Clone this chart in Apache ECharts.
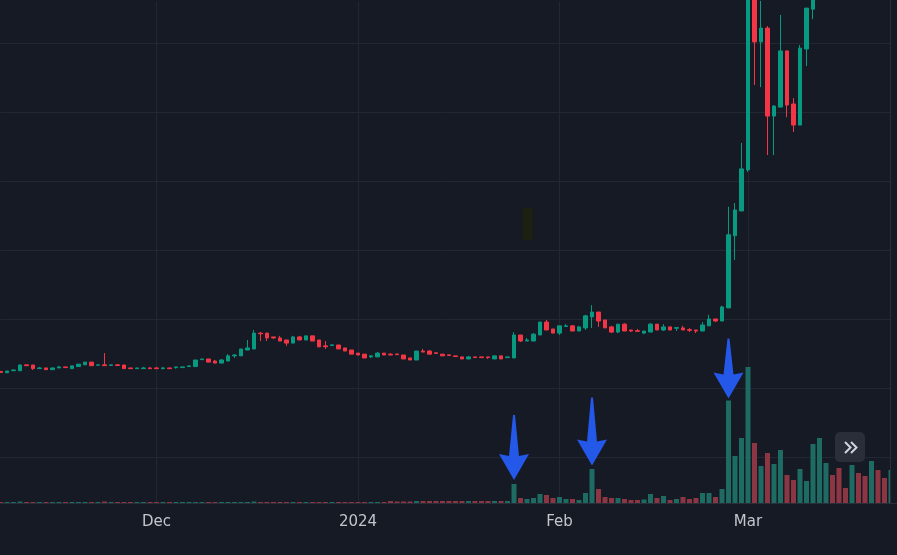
<!DOCTYPE html>
<html>
<head>
<meta charset="utf-8">
<script src="https://cdn.jsdelivr.net/npm/echarts/dist/echarts.min.js"></script>
<style>
html,body{margin:0;padding:0;background:#161a25;}
#c{width:897px;height:555px;}
</style>
</head>
<body>
<div id="c"></div>
<script>
// ---- data ----
const startDate = '2023-11-07';
const tickLabels = [['2023-12-01', 'Dec'], ['2024-01-01', '2024'], ['2024-02-01', 'Feb'], ['2024-03-01', 'Mar']];

const opens = [
  24.9,24.5,25.1,25.1,26.8,26.75,25.7,25.9,25.4,25.9,
  26.2,25.7,26.3,26.8,27.6,26.7,26.8,26.6,26.8,26.75,
  25.9,25.7,25.7,25.9,25.9,25.7,25.9,26.0,26.0,26.3,
  26.3,28.3,28.5,27.9,27.3,27.9,29.4,29.4,31.1,31.4,
  36.0,36.0,34.9,34.6,34.0,33.1,34.9,34.0,35.2,34.0,
  32.3,32.4,32.55,31.7,31.1,30.2,29.9,29.1,29.1,30.2,
  29.9,29.95,29.65,28.8,28.2,30.8,30.8,30.3,29.9,29.7,
  29.4,29.1,28.5,29.1,29.1,29.1,28.5,29.4,28.9,28.8,
  35.45,33.7,33.7,35.45,39.2,37.2,36.0,37.9,38.1,36.6,
  37.5,40.7,42.1,39.8,37.8,36.3,38.6,36.9,36.7,36.0,
  36.3,38.6,36.9,37.8,37.4,37.5,37.0,36.9,36.6,38.1,
  40.1,39.5,43.3,64.2,71.4,83.3,136.5,120.4,124.4,98.9,
  101.5,117.8,102.4,96.3,118.35,129.9,140,150,156,150,
  145,143,151,147,144,152,148,145
];
const closes = [
  24.6,25.0,25.3,26.75,26.55,25.7,25.9,25.4,25.9,26.2,
  26.0,26.5,27.0,27.6,26.55,26.8,26.55,26.8,26.6,25.7,
  25.7,25.9,25.9,25.7,25.7,25.9,25.7,26.2,26.2,26.5,
  28.2,28.5,27.6,27.3,28.2,29.4,29.65,31.4,31.7,36.0,
  35.8,34.6,34.6,33.7,33.1,34.9,34.0,35.2,33.7,32.0,
  32.05,32.6,31.4,30.8,29.9,29.65,28.8,29.4,30.2,29.65,
  29.65,29.75,28.5,28.2,30.8,30.5,29.9,30.1,29.4,29.5,
  29.2,28.5,29.1,28.9,28.9,28.9,29.4,28.5,29.1,35.45,
  33.7,34.0,35.7,39.2,36.9,36.0,38.1,38.1,36.6,37.8,
  41.0,42.1,39.5,37.5,36.3,38.6,36.6,36.6,36.5,36.6,
  38.6,36.9,37.8,36.9,37.6,36.9,36.8,36.6,38.35,40.1,
  39.5,43.6,64.5,71.7,83.6,137.0,120.4,124.4,98.9,101.8,
  117.8,102.1,96.3,118.6,130.2,140.0,150,156,150,145,
  143,151,147,144,152,148,145,149
];
const lows = [
  24.6,24.5,25.0,25.1,26.5,25.3,25.6,25.4,25.4,25.9,
  26.0,25.7,26.3,26.8,26.55,26.7,26.5,26.6,26.6,25.7,
  25.7,25.7,25.7,25.7,25.7,25.5,25.7,25.7,26.0,26.3,
  26.3,28.3,27.6,27.3,27.3,27.9,28.8,29.4,31.1,31.4,
  33.7,33.7,34.3,33.7,32.3,33.1,34.0,34.0,33.7,32.0,
  31.4,32.4,31.4,30.8,29.9,29.65,28.8,28.8,29.1,29.65,
  29.65,29.75,28.5,28.2,28.2,30.5,29.9,30.1,29.4,29.5,
  29.2,28.5,28.5,28.9,28.9,28.5,28.5,28.5,28.9,28.8,
  33.4,33.7,33.7,35.45,36.9,36.0,35.45,37.9,36.6,36.6,
  36.9,37.5,37.8,37.5,36.0,36.0,36.6,36.3,36.5,35.7,
  36.3,36.9,36.6,36.9,36.6,36.9,36.3,36.0,36.6,38.1,
  39.2,39.5,43.3,57.2,71.4,82.7,107.9,107.3,87.6,87.6,
  101.5,98.6,94.3,96.3,113.4,127.0,138,147,148,142,
  141,142,145,141,143,146,143,144
];
const highs = [
  24.9,25.0,25.4,27.0,26.8,26.75,26.2,25.9,25.9,26.5,
  26.2,26.5,27.0,27.6,27.6,26.8,30.2,26.8,27.0,26.75,
  25.9,25.9,26.2,26.2,26.2,26.2,25.9,26.2,26.2,26.5,
  28.2,28.5,28.5,28.2,28.5,29.9,29.9,31.4,34.0,36.9,
  36.3,36.0,34.9,35.2,34.0,35.2,35.2,35.2,35.2,34.0,
  33.7,32.6,32.55,31.7,31.1,30.2,29.9,29.65,30.5,30.2,
  30.2,29.95,29.65,28.8,30.8,31.4,31.1,30.3,29.9,29.7,
  29.4,29.1,29.4,29.1,29.1,29.1,29.4,29.4,29.1,36.3,
  35.45,34.6,36.0,39.2,39.8,37.2,38.1,38.6,38.35,38.1,
  41.3,44.1,42.1,39.8,38.1,38.6,38.9,36.9,37.2,36.6,
  38.9,38.6,38.6,37.8,37.6,38.1,37.5,36.9,39.2,41.3,
  40.1,43.9,72.6,73.7,91.1,139.0,140.0,132.3,125.0,102.1,
  128.2,117.8,104.1,119.5,130.2,142.0,152,158,157,152,
  146,153,152,148,155,153,149,150
];
const volumes = [
  0.2,0.2,0.2,0.3,0.2,0.2,0.2,0.2,0.2,0.2,
  0.2,0.2,0.2,0.2,0.2,0.2,0.3,0.2,0.2,0.2,
  0.2,0.2,0.2,0.2,0.2,0.2,0.2,0.2,0.2,0.2,
  0.2,0.2,0.2,0.2,0.2,0.2,0.2,0.2,0.2,0.3,
  0.2,0.2,0.2,0.2,0.2,0.2,0.2,0.2,0.2,0.2,
  0.2,0.2,0.2,0.2,0.2,0.2,0.2,0.2,0.2,0.2,
  0.4,0.3,0.3,0.3,0.4,0.4,0.4,0.4,0.4,0.4,
  0.4,0.4,0.4,0.4,0.4,0.4,0.4,0.4,0.4,3.8,
  1.0,0.8,1.0,1.8,1.6,1.0,1.2,0.8,0.8,0.6,
  2.0,6.8,2.8,1.2,1.0,1.0,0.8,0.6,0.6,0.7,
  1.8,1.0,1.4,0.6,0.8,1.2,0.8,1.0,2.0,2.0,
  1.2,2.8,20.5,9.4,13.0,27.2,12.0,7.4,10.0,7.8,
  10.6,5.6,4.6,6.8,4.4,11.8,13.0,8.0,5.6,7.0,
  3.0,7.6,6.0,5.4,8.4,6.6,5.0,6.6
];
// annotation arrows: [date, arrow length, gap above bar]
const arrowMarks = [['2024-01-25', 65, 4], ['2024-02-06', 68, 3.5], ['2024-02-27', 60, 2]];

// ---- build ----
const dates = [];
const d0 = new Date(startDate + 'T00:00:00Z');
for (let i = 0; i < opens.length; i++) {
  dates.push(new Date(d0.getTime() + i * 86400000).toISOString().slice(0, 10));
}
const labelMap = new Map(tickLabels);
const UP = '#089981', DOWN = '#f23645';
const VUP = '#1d6b63', VDOWN = '#8c3644';
const BG = '#161a25', GRID = '#232734';

const candles = opens.map((o, i) => [o, closes[i], lows[i], highs[i]]);
const volData = volumes.map((v, i) => ({
  value: v,
  itemStyle: { color: closes[i] >= opens[i] ? VUP : VDOWN }
}));

const chart = echarts.init(document.getElementById('c'), null, { renderer: 'canvas' });
const isTick = (i) => labelMap.has(dates[i]);

chart.setOption({
  animation: false,
  backgroundColor: BG,
  grid: [
    { left: 0.5, right: 6, top: 0, bottom: 97.7 },
    { left: 0.5, right: 6, top: 0, bottom: 52 }
  ],
  xAxis: [
    { type: 'category', gridIndex: 0, data: dates, boundaryGap: false, show: false },
    {
      type: 'category', gridIndex: 1, data: dates, boundaryGap: false,
      axisLine: { show: true, lineStyle: { color: '#2a2e39', width: 1 } },
      axisTick: { show: false },
      axisLabel: {
        interval: (i) => isTick(i),
        formatter: (v) => labelMap.get(v) || '',
        color: '#c3c5cb', fontSize: 15, fontFamily: 'DejaVu Sans', margin: 12
      },
      splitLine: { show: true, interval: (i) => isTick(i), lineStyle: { color: GRID, width: 1 } }
    }
  ],
  yAxis: [
    {
      type: 'value', gridIndex: 0, min: 0, max: 132.55, interval: 20,
      axisLabel: { show: false }, axisLine: { show: false }, axisTick: { show: false },
      splitLine: { show: true, lineStyle: { color: GRID, width: 1 } }
    },
    { type: 'value', gridIndex: 1, min: 0, max: 100.6, show: false, splitLine: { show: false } }
  ],
  series: [
    {
      type: 'bar', xAxisIndex: 1, yAxisIndex: 1, data: volData, barWidth: 5,
      silent: true, z: 2
    },
    {
      type: 'candlestick', xAxisIndex: 0, yAxisIndex: 0, data: candles, barWidth: 4,
      clip: true, silent: true, z: 3,
      itemStyle: { color: UP, color0: DOWN, borderColor: UP, borderColor0: DOWN, borderWidth: 1 }
    }
  ]
});

// overlay graphics: arrows, button, panel edge
const graphics = [];
// hide the extent line at the very top edge (under the series)
graphics.push({ type: 'rect', z: 1, silent: true, shape: { x: 0, y: 0, width: 897, height: 1.5 }, style: { fill: BG } });
arrowMarks.forEach(([date, len, gap]) => {
  const idx = dates.indexOf(date);
  const p = chart.convertToPixel({ gridIndex: 1 }, [idx, volumes[idx]]);
  const tx = p[0], ty = p[1] - gap;
  graphics.push({
    type: 'polygon', z: 100, silent: true,
    shape: { points: [
      [tx - 1, ty - len], [tx + 1, ty - len], [tx + 5, ty - 24], [tx + 15, ty - 26],
      [tx, ty], [tx - 15, ty - 26], [tx - 5, ty - 24]
    ] },
    style: { fill: '#2458e8' }
  });
});
graphics.push({ type: 'rect', z: 100, silent: true, shape: { x: 522.7, y: 208, width: 10, height: 32 }, style: { fill: '#1c2011' } });
graphics.push({ type: 'rect', z: 100, silent: true, shape: { x: 890, y: 0, width: 7, height: 503 }, style: { fill: BG } });
graphics.push({ type: 'line', z: 101, silent: true, shape: { x1: 890.5, y1: 0, x2: 890.5, y2: 503 }, style: { stroke: '#2a2e39', lineWidth: 1 } });
graphics.push({ type: 'line', z: 101, silent: true, shape: { x1: 885, y1: 503.5, x2: 897, y2: 503.5 }, style: { stroke: '#2a2e39', lineWidth: 1 } });
graphics.push({ type: 'rect', z: 110, silent: true, shape: { x: 835, y: 432, width: 30, height: 30, r: 5 }, style: { fill: '#2a2e39' } });
graphics.push({ type: 'polyline', z: 111, silent: true, shape: { points: [[845, 442], [850.5, 447.5], [845, 453]] }, style: { stroke: '#d1d4dc', lineWidth: 2, fill: null } });
graphics.push({ type: 'polyline', z: 111, silent: true, shape: { points: [[851, 442], [856.5, 447.5], [851, 453]] }, style: { stroke: '#d1d4dc', lineWidth: 2, fill: null } });
chart.setOption({ graphic: graphics });
</script>
</body>
</html>
